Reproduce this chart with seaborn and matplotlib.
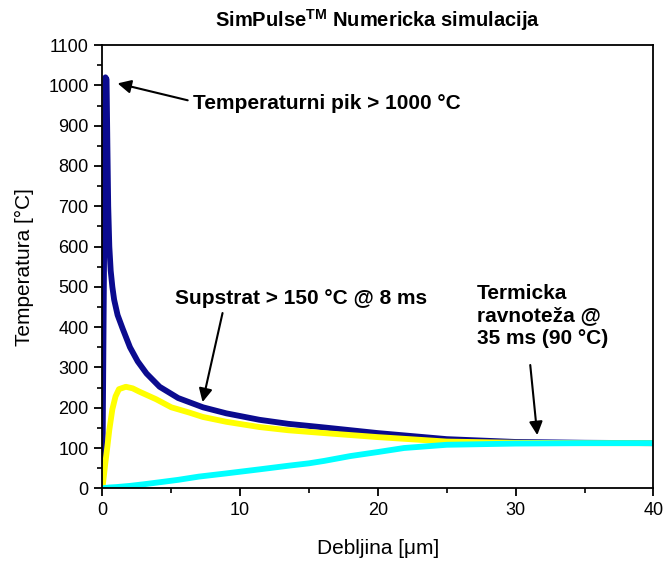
import matplotlib
matplotlib.use("Agg")
import matplotlib.pyplot as plt
import seaborn as sns
import pandas as pd
from matplotlib.ticker import MultipleLocator

# Data
peak_x = [0, 0.22, 0.3, 0.36, 0.42, 0.5, 0.6, 0.72, 0.85, 1.1, 1.47, 2.0, 2.56,
          3.2, 4.15, 5.5, 7.3, 9.0, 11.4, 13.5, 16.1, 20, 25, 30, 35, 40]
peak_temp = [40, 1020, 1015, 850, 700, 600, 540, 500, 468, 430, 396, 350, 315,
             285, 252, 224, 201, 186, 170, 160, 151, 137, 122, 115, 113, 112]

sub_x = [0, 0.12, 0.2, 0.36, 0.5, 0.72, 0.95, 1.2, 1.7, 2.2, 2.67, 3.9, 5.0,
         6.3, 7.3, 9.0, 11.4, 13.5, 16.1, 20, 25, 30, 35, 40]
substrate_8ms = [0, 35, 60, 104, 145, 196, 228, 246, 252, 248, 240, 221, 201,
                 188, 177, 165, 152, 144, 137, 127, 116, 113, 112, 112]

eq_x = [0, 0.2, 0.5, 1, 2, 3, 4.15, 5.5, 7, 9, 11.4, 13.5, 15, 16.1, 18, 20,
        21.9, 25, 30, 35, 40]
equilibrium_35ms = [0, 1, 2, 3, 6, 10, 15, 21, 29, 37, 47, 56, 62, 68, 80, 90,
                    100, 108, 111, 112, 112]

series_names = ["pik", "8 ms", "35 ms"]
series_colors = ["#0b0b8f", "#ffff00", "#00ffff"]

frames = []
for name, xs, vals in zip(series_names, [peak_x, sub_x, eq_x],
                          [peak_temp, substrate_8ms, equilibrium_35ms]):
    frames.append(pd.DataFrame({"x": xs, "y": vals, "s": name}))
df = pd.concat(frames, ignore_index=True)

sns.set_style("ticks")
plt.rcParams["font.family"] = ["Liberation Sans", "DejaVu Sans"]
plt.rcParams["mathtext.fontset"] = "custom"
plt.rcParams["mathtext.bf"] = "Liberation Sans:bold"
plt.rcParams["mathtext.rm"] = "Liberation Sans"
for key in ["text.color", "axes.labelcolor", "xtick.color", "ytick.color",
            "axes.edgecolor"]:
    plt.rcParams[key] = "black"

fig = plt.figure(figsize=(6.63, 5.61), dpi=100)
ax = fig.add_axes([0.1545, 0.1296, 0.831, 0.790])

sns.lineplot(data=df, x="x", y="y", hue="s", hue_order=series_names,
             palette=series_colors, sort=False, linewidth=4.2, legend=False,
             ax=ax, estimator=None)
for ln in ax.get_lines():
    ln.set_solid_capstyle("butt")
    ln.set_solid_joinstyle("round")

ax.set_xlim(0, 40)
ax.set_ylim(0, 1100)
ax.xaxis.set_major_locator(MultipleLocator(10))
ax.xaxis.set_minor_locator(MultipleLocator(5))
ax.yaxis.set_major_locator(MultipleLocator(100))
ax.yaxis.set_minor_locator(MultipleLocator(50))
ax.tick_params(which="major", direction="out", length=6, width=1.3,
               labelsize=13, colors="black", pad=4)
ax.tick_params(which="minor", direction="out", length=3.5, width=1.2)
for sp in ax.spines.values():
    sp.set_linewidth(1.3)
    sp.set_color("black")

ax.set_xlabel("Debljina [μm]", fontsize=15, labelpad=14)
ax.set_ylabel("Temperatura [°C]", fontsize=15, labelpad=10)
ax.set_title("SimPulse$^{\\mathbf{TM}}$ Numericka simulacija",
             fontsize=14.5, fontweight="bold", pad=13)

arrow = dict(arrowstyle="-|>", color="black", lw=1.5, mutation_scale=20,
             shrinkA=0, shrinkB=0)
tkw = dict(fontsize=15, fontweight="bold", va="center", ha="left")
ax.text(6.55, 956, "Temperaturni pik > 1000 °C", **tkw)
ax.annotate("", xy=(1.1, 1005), xytext=(6.19, 963), arrowprops=arrow)
ax.text(5.25, 472, "Supstrat > 150 °C @ 8 ms", **tkw)
ax.annotate("", xy=(7.27, 214), xytext=(8.72, 435), arrowprops=arrow)
ax.text(27.16, 428, "Termicka\nravnoteža @\n35 ms (90 °C)", linespacing=1.25,
        **tkw)
ax.annotate("", xy=(31.57, 132), xytext=(31.06, 306), arrowprops=arrow)

fig.savefig("out.png", dpi=100)
